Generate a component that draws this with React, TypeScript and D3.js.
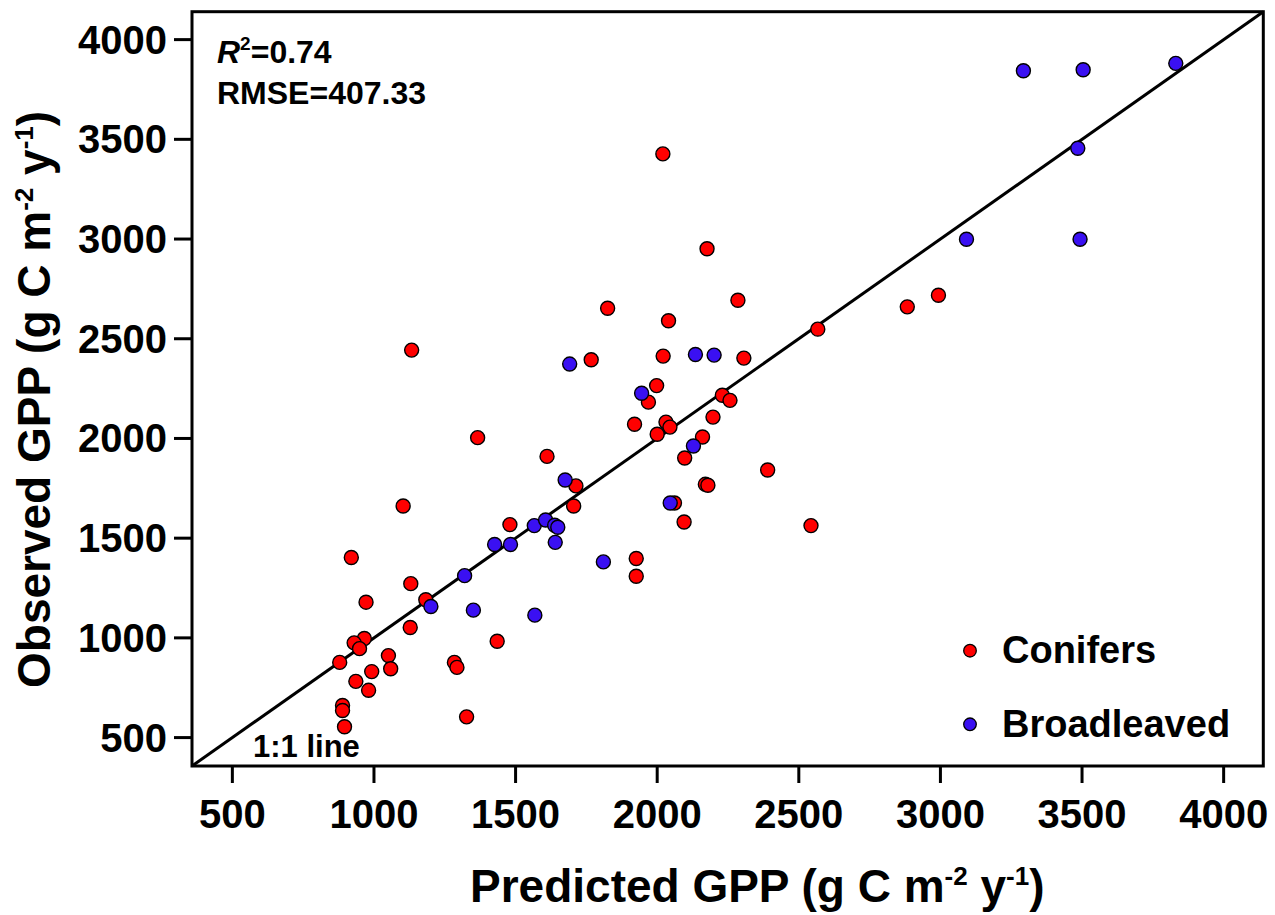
import React from "react";
import * as d3 from "d3";

// Conifers: [predicted, observed]
const coniferPred = [2020, 2176, 2285, 1825, 2040, 1133, 1767, 2021, 2306, 1998, 1969, 2230, 2257, 2567, 1920, 2031, 2045, 2000, 2197, 2160, 2097, 1366, 1611, 2390, 1713, 1705, 2170, 2179, 2061, 2095, 2543, 1480, 1926, 1926, 1103, 920, 1130, 972, 1183, 1128, 966, 930, 949, 879, 1051, 1059, 992, 936, 981, 889, 889, 896, 1284, 1293, 1327, 1435, 2993, 2883];
const coniferObs = [3427, 2951, 2693, 2653, 2590, 2443, 2395, 2413, 2403, 2265, 2182, 2217, 2191, 2548, 2071, 2082, 2057, 2021, 2107, 2007, 1902, 2004, 1910, 1842, 1762, 1661, 1770, 1765, 1676, 1581, 1563, 1568, 1398, 1309, 1661, 1403, 1272, 1179, 1191, 1052, 997, 975, 946, 877, 911, 845, 831, 782, 737, 661, 636, 554, 877, 852, 604, 983, 2718, 2660];

// Broadleaved: [predicted, observed]
const broadPred = [3293, 3504, 3831, 3485, 3092, 3493, 1691, 2135, 2201, 1945, 2128, 1675, 2046, 1426, 1482, 1566, 1606, 1638, 1649, 1640, 1810, 1320, 1351, 1568, 1201];
const broadObs = [3844, 3849, 3881, 3455, 2999, 2999, 2373, 2421, 2418, 2227, 1962, 1792, 1676, 1468, 1468, 1563, 1591, 1565, 1555, 1479, 1381, 1312, 1139, 1114, 1157];

const ticks = [500, 1000, 1500, 2000, 2500, 3000, 3500, 4000];
const domain: [number, number] = [357.5, 4140];

const seriesNames = ["Conifers", "Broadleaved"];
const seriesColors = ["#ff0000", "#3a10f2"];

const W = 1275;
const H = 915;
const left = 192;
const right = 1263.3;
const top = 11.7;
const bottom = 766;

const FONT = "'Liberation Sans', Arial, Helvetica, sans-serif";

export default function App() {
  const x = d3.scaleLinear().domain(domain).range([left, right]);
  const y = d3.scaleLinear().domain(domain).range([bottom, top]);

  const line = d3.line<[number, number]>()
    .x((d) => x(d[0]))
    .y((d) => y(d[1]));
  const oneToOne: [number, number][] = [
    [domain[0], domain[0]],
    [domain[1], domain[1]],
  ];

  const conifers = coniferPred.map((p, i) => [p, coniferObs[i]]);
  const broads = broadPred.map((p, i) => [p, broadObs[i]]);

  return (
    <svg width={W} height={H} viewBox={`0 0 ${W} ${H}`} style={{ display: "block", position: "absolute", left: 0, top: 0 }} fontFamily={FONT}>
      <rect x={0} y={0} width={W} height={H} fill="#fff" />
      {/* 1:1 line */}
      <path d={line(oneToOne) || ""} stroke="#000" strokeWidth={3} fill="none" />
      {/* points */}
      {conifers.map((d, i) => (
        <circle key={"c" + i} cx={x(d[0])} cy={y(d[1])} r={7} fill={seriesColors[0]} stroke="#000" strokeWidth={1.4} />
      ))}
      {broads.map((d, i) => (
        <circle key={"b" + i} cx={x(d[0])} cy={y(d[1])} r={7} fill={seriesColors[1]} stroke="#000" strokeWidth={1.4} />
      ))}
      {/* frame */}
      <rect x={left} y={top} width={right - left} height={bottom - top} fill="none" stroke="#000" strokeWidth={3} />
      {/* x ticks */}
      {ticks.map((t) => (
        <g key={"xt" + t}>
          <line x1={x(t)} x2={x(t)} y1={bottom} y2={bottom + 17} stroke="#000" strokeWidth={3} />
          <text x={x(t)} y={828} textAnchor="middle" fontSize={40} fontWeight="bold">{t}</text>
        </g>
      ))}
      {/* y ticks */}
      {ticks.map((t) => (
        <g key={"yt" + t}>
          <line x1={left - 18} x2={left} y1={y(t)} y2={y(t)} stroke="#000" strokeWidth={3} />
          <text x={167} y={y(t) + 14} textAnchor="end" fontSize={40} fontWeight="bold">{t}</text>
        </g>
      ))}
      {/* axis titles */}
      <text x={470} y={902} fontSize={46} fontWeight="bold">
        <tspan>{"Predicted GPP (g C m"}</tspan>
        <tspan fontSize={26} dy={-17}>{"-2"}</tspan>
        <tspan dy={17}>{" y"}</tspan>
        <tspan fontSize={26} dy={-17}>{"-1"}</tspan>
        <tspan dy={17}>{")"}</tspan>
      </text>
      <text transform="translate(50,688) rotate(-90)" x={0} y={0} fontSize={46} fontWeight="bold">
        <tspan>{"Observed GPP (g C m"}</tspan>
        <tspan fontSize={26} dy={-17}>{"-2"}</tspan>
        <tspan dy={17}>{" y"}</tspan>
        <tspan fontSize={26} dy={-17}>{"-1"}</tspan>
        <tspan dy={17}>{")"}</tspan>
      </text>
      {/* annotations */}
      <text x={217} y={63} fontSize={32} fontWeight="bold">
        <tspan fontStyle="italic">R</tspan>
        <tspan fontSize={19} dy={-13}>2</tspan>
        <tspan dy={13}>=0.74</tspan>
      </text>
      <text x={217} y={104} fontSize={32} fontWeight="bold">RMSE=407.33</text>
      <text x={253} y={757} fontSize={31} fontWeight="bold">1:1 line</text>
      {/* legend */}
      {seriesNames.map((n, i) => (
        <g key={n}>
          <circle cx={970} cy={650.7 + i * 73.6} r={6.3} fill={seriesColors[i]} stroke="#000" strokeWidth={1.3} />
          <text x={1002} y={662.7 + i * 74} fontSize={38} fontWeight="bold">{n}</text>
        </g>
      ))}
    </svg>
  );
}
